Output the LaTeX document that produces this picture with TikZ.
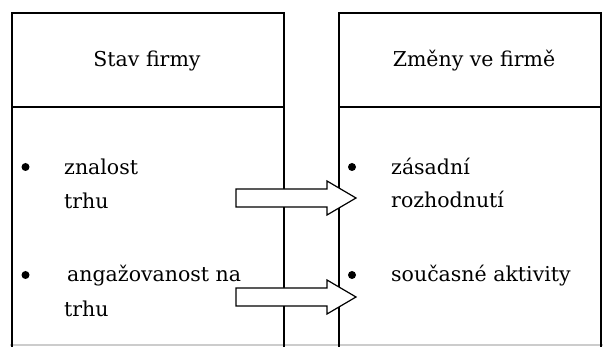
\documentclass[tikz,border=0pt]{standalone}
\usepackage{fontspec}
\setmainfont{DejaVu Serif}
\usetikzlibrary{calc}
\begin{document}
\begin{tikzpicture}[x=1pt,y=-1pt,
  boxline/.style={line width=1.6pt,black},
  txt/.style={anchor=base west,inner sep=0pt,font=\fontsize{20.5}{24}\selectfont},
  head/.style={anchor=base,inner sep=0pt,font=\fontsize{20.5}{24}\selectfont},
  dot/.style={circle,fill=black,inner sep=0pt,minimum size=8pt},
  fatarrow/.style={draw=black,line width=1.2pt,fill=white,line join=miter}]
\useasboundingbox (0,0) rectangle (603,347);
\fill[white] (0,0) rectangle (603,347);
% boxes
\draw[gray!40,line width=1.2pt] (10,345) -- (603,345);
\draw[boxline] (12,347) -- (12,13) -- (284,13) -- (284,347);
\draw[boxline] (12,107) -- (284,107);
\draw[boxline] (339,347) -- (339,13) -- (601,13) -- (601,347);
\draw[boxline] (339,107) -- (601,107);
% headers
\node[head] (h1) at (147,67) {Stav firmy};
\node[head] (h2) at (474,67) {Změny ve firmě};
% bullets
\node[dot] (b1) at (25.5,167) {};
\node[dot] (b2) at (25.5,275) {};
\node[dot] (b3) at (352,167) {};
\node[dot] (b4) at (352,275) {};
% left texts
\node[txt] (l1) at (64,175) {znalost};
\node[txt] (l2) at (64,209) {trhu};
\node[txt] (l3) at (67,282) {angažovanost na};
\node[txt] (l4) at (64,317) {trhu};
% right texts
\node[txt] (r1) at (391,175) {zásadní};
\node[txt] (r2) at (391,208) {rozhodnutí};
\node[txt] (r3) at (391,282) {současné aktivity};
% arrows
\coordinate (s1) at (236,198);
\coordinate (t1) at (356,198);
\coordinate (s2) at (236,297);
\coordinate (t2) at (356,297);
\foreach \s/\t in {s1/t1,s2/t2}{
  \draw[fatarrow] ($(\s)+(0,-9)$) -- ($(\t)+(-29,-9)$) -- ($(\t)+(-29,-17)$) -- (\t)
    -- ($(\t)+(-29,17)$) -- ($(\t)+(-29,9)$) -- ($(\s)+(0,9)$) -- cycle;
}
\end{tikzpicture}
\end{document}
